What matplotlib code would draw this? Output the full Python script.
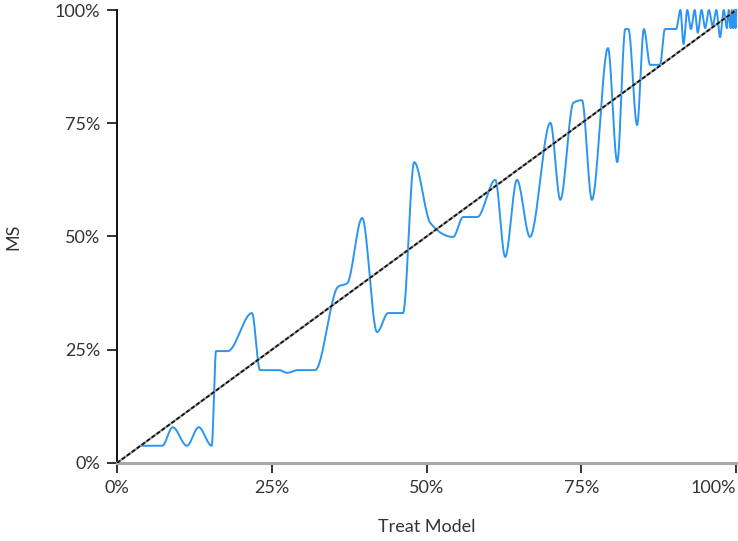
import numpy as np
import matplotlib
matplotlib.use("Agg")
import matplotlib.pyplot as plt
from matplotlib.ticker import FuncFormatter

# knots of the MS curve (treat-model share -> MS share)
treat = [0.040, 0.073, 0.090, 0.113, 0.132, 0.153, 0.160, 0.179, 0.218, 0.231,
         0.262, 0.275, 0.292, 0.320, 0.357, 0.372, 0.396, 0.420, 0.438, 0.462,
         0.480, 0.506, 0.543, 0.559, 0.582, 0.611, 0.627, 0.646, 0.667, 0.700,
         0.716, 0.737, 0.751, 0.767, 0.793, 0.808, 0.821, 0.826, 0.840, 0.851,
         0.861, 0.877, 0.885, 0.903, 0.910, 0.915, 0.921, 0.927, 0.933, 0.938,
         0.944, 0.950, 0.956, 0.962, 0.968, 0.974, 0.980, 0.985, 0.988, 0.991,
         0.993, 0.995, 0.997, 0.999, 1.000]
ms = [0.038, 0.038, 0.079, 0.038, 0.079, 0.038, 0.247, 0.247, 0.331, 0.205,
      0.205, 0.199, 0.205, 0.205, 0.389, 0.397, 0.541, 0.289, 0.331, 0.331,
      0.664, 0.530, 0.499, 0.543, 0.543, 0.625, 0.455, 0.625, 0.499, 0.751,
      0.581, 0.795, 0.801, 0.581, 0.916, 0.664, 0.958, 0.958, 0.746, 0.958,
      0.879, 0.879, 0.958, 0.958, 1.000, 0.925, 1.000, 0.958, 1.000, 0.950,
      1.000, 0.960, 1.000, 0.965, 1.000, 0.940, 1.000, 0.960, 1.000, 0.960,
      1.000, 0.960, 1.000, 0.960, 1.000]

ticks = [0, 0.25, 0.5, 0.75, 1.0]


def monotone_x(x, y, n=30):
    """d3-style monotoneX curve through the knots."""
    x, y = np.asarray(x, float), np.asarray(y, float)
    h = np.diff(x)
    s = np.diff(y) / h
    m = np.zeros_like(x)
    for i in range(1, len(x) - 1):
        p = (s[i - 1] * h[i] + s[i] * h[i - 1]) / (h[i - 1] + h[i])
        m[i] = (np.sign(s[i - 1]) + np.sign(s[i])) * min(abs(s[i - 1]), abs(s[i]), 0.5 * abs(p))
    m[0] = (3 * s[0] - m[1]) / 2
    m[-1] = (3 * s[-1] - m[-2]) / 2
    xs, ys = [], []
    t = np.linspace(0, 1, n)
    for i in range(len(h)):
        h00 = 2 * t**3 - 3 * t**2 + 1
        h10 = t**3 - 2 * t**2 + t
        h01 = -2 * t**3 + 3 * t**2
        h11 = t**3 - t**2
        xs.append(x[i] + t * h[i])
        ys.append(h00 * y[i] + h10 * h[i] * m[i] + h01 * y[i + 1] + h11 * h[i] * m[i + 1])
    return np.concatenate(xs), np.concatenate(ys)


plt.rcParams["font.family"] = ["Lato", "DejaVu Sans"]

fig = plt.figure(figsize=(7.38, 5.41), dpi=100)
ax = fig.add_axes([0.1585, 0.1442, 0.839, 0.8373])

cx, cy = monotone_x(treat, ms)
ax.plot(cx, cy, color="#2b95f2", lw=1.4, zorder=3, clip_on=False)

# reference diagonal
ax.plot([0, 1], [0, 1], color="#9a9a9a", lw=1.6, zorder=4)
ax.plot([0, 1], [0, 1], color="#111111", lw=1.3, dashes=(2.2, 1.2), zorder=5)

ax.set_xlim(0, 1)
ax.set_ylim(0, 1)
ax.set_xticks(ticks)
ax.set_yticks(ticks)
pct = FuncFormatter(lambda v, _: f"{v * 100:.0f}%")
ax.xaxis.set_major_formatter(pct)
ax.yaxis.set_major_formatter(pct)

for side in ("top", "right"):
    ax.spines[side].set_visible(False)
ax.spines["left"].set_color("#111111")
ax.spines["left"].set_linewidth(1.4)
ax.spines["bottom"].set_color("#a8a8a8")
ax.spines["bottom"].set_linewidth(2.2)

ax.tick_params(axis="both", length=7, width=1.3, color="#222222",
               labelsize=13, labelcolor="#333333", pad=5)
ax.get_xticklabels()[-1].set_horizontalalignment("right")
ax.get_xticklabels()[-1].set_x(1.0)

ax.set_xlabel("Treat Model", fontsize=13, color="#333333", labelpad=17)
ax.set_ylabel("MS", fontsize=13, color="#333333", labelpad=24)

fig.savefig("out.png", dpi=100)
